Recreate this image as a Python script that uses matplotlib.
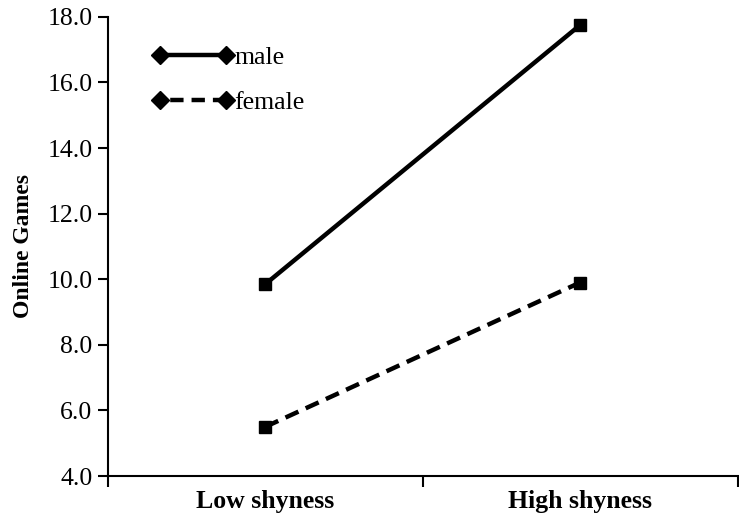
import numpy as np
import matplotlib.pyplot as plt
from matplotlib.lines import Line2D

# data
groups = ["Low shyness", "High shyness"]
male = [9.85, 17.75]
female = [5.5, 9.9]
yticks = [4.0, 6.0, 8.0, 10.0, 12.0, 14.0, 16.0, 18.0]

plt.rcParams['font.family'] = ['Liberation Serif', 'DejaVu Serif']

fig = plt.figure(figsize=(7.39, 5.26), dpi=100)
ax = fig.add_axes([0.146, 0.095, 0.852, 0.873])

x = np.arange(len(groups)) + 0.5
ax.plot(x, male, color='black', lw=3.2, ls='-', marker='s', ms=9)
ax.plot(x, female, color='black', lw=3.2, ls=(0, (3.2, 1.8)), marker='s', ms=9)

ax.set_xlim(0, 2)
ax.set_ylim(4, 18)
ax.set_yticks(yticks)
ax.set_yticklabels(["%.1f" % t for t in yticks], fontsize=18.5)
ax.set_xticks([0, 1, 2])
ax.set_xticklabels([])
ax.set_xticks(x, minor=True)
ax.set_xticklabels(groups, minor=True, fontsize=18.5, fontweight='bold')
ax.tick_params(axis='x', which='minor', length=0, pad=10)
ax.tick_params(axis='x', which='major', length=8, width=1.5, direction='out')
ax.tick_params(axis='y', length=7, width=1.5, direction='out', pad=4)

for s in ['top', 'right']:
    ax.spines[s].set_visible(False)
for s in ['left', 'bottom']:
    ax.spines[s].set_linewidth(1.5)

ax.set_ylabel("Online Games", fontsize=17, fontweight='bold', labelpad=10)

handles = [
    Line2D([], [], color='black', lw=3.2, ls='-', marker='D', ms=9),
    Line2D([], [], color='black', lw=3.2, ls=(2.5, (3.0, 1.8)), marker='D', ms=9),
]
ax.legend(handles, ["male", "female"], loc='upper left', bbox_to_anchor=(0.033, 0.986),
          frameon=False, numpoints=2, handlelength=3.2, handletextpad=0.0,
          fontsize=18.5, labelspacing=0.85)

plt.savefig('out.png', dpi=100)
